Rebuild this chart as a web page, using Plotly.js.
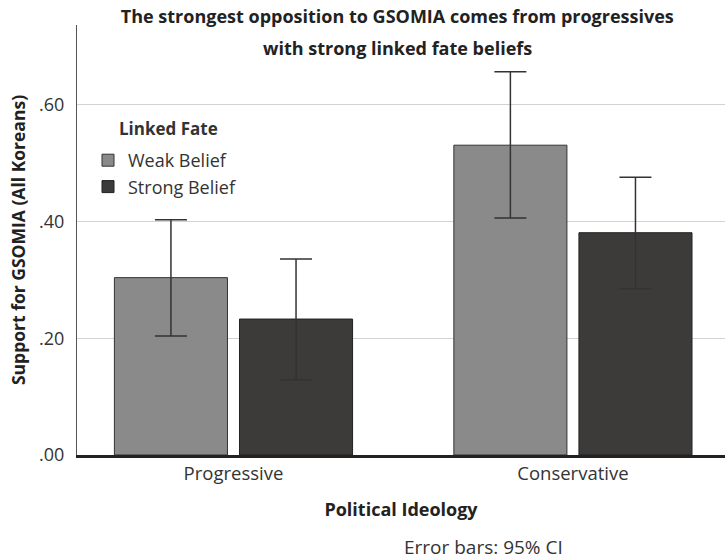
<!DOCTYPE html>
<html>
<head>
<meta charset="utf-8">
<script src="https://cdn.plot.ly/plotly-3.0.1.min.js"></script>
<style>html,body{margin:0;padding:0;background:#fff;}#chart{width:725px;height:559px;}</style>
</head>
<body>
<div id="chart"></div>
<script>
const categories = ['Progressive', 'Conservative'];
const seriesNames = ['Weak Belief', 'Strong Belief'];
const weakMean = [0.304, 0.531];
const weakUpper = [0.403, 0.657];
const weakLower = [0.204, 0.406];
const strongMean = [0.233, 0.381];
const strongUpper = [0.336, 0.476];
const strongLower = [0.129, 0.285];
const yTickVals = [0, 0.2, 0.4, 0.6];
const yTickText = ['.00', '.20', '.40', '.60'];

const FONT = 'Open Sans, Noto Sans, sans-serif';

function errs(mean, upper, lower) {
  return {
    type: 'data', symmetric: false,
    array: upper.map((u, i) => u - mean[i]),
    arrayminus: lower.map((l, i) => mean[i] - l),
    color: '#333', thickness: 1.5, width: 16
  };
}

const traces = [
  {
    type: 'bar', name: seriesNames[0], x: categories, y: weakMean,
    marker: {color: '#8a8a8a', line: {color: '#333', width: 1}},
    error_y: errs(weakMean, weakUpper, weakLower)
  },
  {
    type: 'bar', name: seriesNames[1], x: categories, y: strongMean,
    marker: {color: '#3d3a3a', line: {color: '#222', width: 1}},
    error_y: errs(strongMean, strongUpper, strongLower)
  }
];

const layout = {
  width: 725, height: 559,
  margin: {l: 77, r: 0, t: 25, b: 104},
  paper_bgcolor: '#fff', plot_bgcolor: '#fff',
  font: {family: FONT, color: '#333', size: 16},
  barmode: 'group', bargap: 0.263, bargroupgap: 0.096,
  showlegend: true,
  title: {
    text: '<b>The strongest opposition to GSOMIA comes from progressives</b>',
    font: {family: FONT, size: 18, color: '#222'},
    xref: 'container', x: 0.548, xanchor: 'center',
    yref: 'container', y: 1 - 17/559, yanchor: 'middle'
  },
  annotations: [
    {text: '<b>with strong linked fate beliefs</b>', xref: 'paper', yref: 'paper',
     x: (397-77)/648, y: (455-48)/430, xanchor: 'center', yanchor: 'middle', showarrow: false,
     font: {family: FONT, size: 18, color: '#222'}},
    {text: '<b>Linked Fate</b>', xref: 'paper', yref: 'paper',
     x: (168-77)/648, y: (455-128)/430, xanchor: 'center', yanchor: 'middle', showarrow: false,
     font: {family: FONT, size: 17, color: '#333'}},
    {text: 'Error bars: 95% CI', xref: 'paper', yref: 'paper',
     x: (483-77)/648, y: (455-547)/430, xanchor: 'center', yanchor: 'middle', showarrow: false,
     font: {family: FONT, size: 19, color: '#333'}}
  ],
  legend: {
    x: (88-77)/648, y: (455-142)/430, xanchor: 'left', yanchor: 'top',
    bgcolor: 'rgba(0,0,0,0)',
    font: {family: FONT, size: 18, color: '#333'},
    tracegroupgap: 0
  },
  xaxis: {
    type: 'category', range: [-0.461, 1.448],
    showline: true, linecolor: '#222', linewidth: 3,
    ticks: '', showgrid: false,
    tickfont: {family: FONT, size: 18.5, color: '#333'},
    title: {text: '<b>Political Ideology</b>', font: {family: FONT, size: 18, color: '#222'}, standoff: 20}
  },
  yaxis: {
    range: [0, 0.737],
    tickvals: yTickVals, ticktext: yTickText,
    showline: true, linecolor: '#555', linewidth: 1,
    showgrid: true, gridcolor: '#d2d2d2', gridwidth: 1,
    zeroline: false, ticks: '', ticklabelstandoff: 8,
    tickfont: {family: FONT, size: 18, color: '#333'},
    title: {text: '<b>Support for GSOMIA (All Koreans)</b>', font: {family: FONT, size: 17.5, color: '#222'}, standoff: 8}
  }
};

Plotly.newPlot('chart', traces, layout, {displayModeBar: false, staticPlot: true});
</script>
</body>
</html>
